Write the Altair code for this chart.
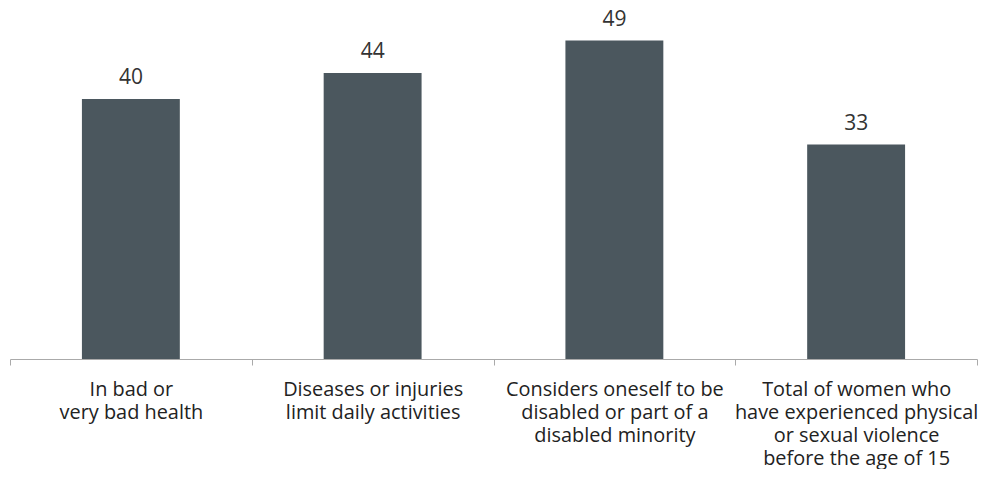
import altair as alt
import pandas as pd

categories = [
    "In bad or\nvery bad health",
    "Diseases or injuries\nlimit daily activities",
    "Considers oneself to be\ndisabled or part of a\ndisabled minority",
    "Total of women who\nhave experienced physical\nor sexual violence\nbefore the age of 15",
]
values = [40, 44, 49, 33]

df = pd.DataFrame({"cat": categories, "val": values})

FONT = "Open Sans"

x = alt.X(
    "cat:N",
    sort=None,
    title=None,
    scale=alt.Scale(paddingInner=0, paddingOuter=0),
    axis=alt.Axis(
        labelExpr="split(datum.label, '\\n')",
        labelAngle=0,
        labelFontSize=19.9,
        labelFont=FONT,
        labelColor="#222222",
        labelLineHeight=23,
        labelBaseline="top",
        labelPadding=14,
        tickBand="extent",
        tickSize=6,
        tickColor="#aaaaaa",
        domainColor="#aaaaaa",
        labelLimit=400,
        grid=False,
    ),
)
y = alt.Y("val:Q", scale=alt.Scale(domain=[0, 54]), axis=None)

bars = alt.Chart(df).mark_bar(
    color="#4b575e", width=alt.RelativeBandSize(0.405)
).encode(x=x, y=y)

labels = alt.Chart(df).mark_text(
    dy=-21, fontSize=21, font=FONT, color="#333333"
).encode(x=x, y=y, text="val:Q")

chart = (
    (bars + labels)
    .properties(
        width=967,
        height=351,
        padding={"left": 2, "top": 0, "right": 1, "bottom": 110},
        autosize=alt.AutoSizeParams(type="none"),
    )
    .configure_view(stroke=None)
)

chart.save("out.html", embed_options={"renderer": "svg", "actions": False})
